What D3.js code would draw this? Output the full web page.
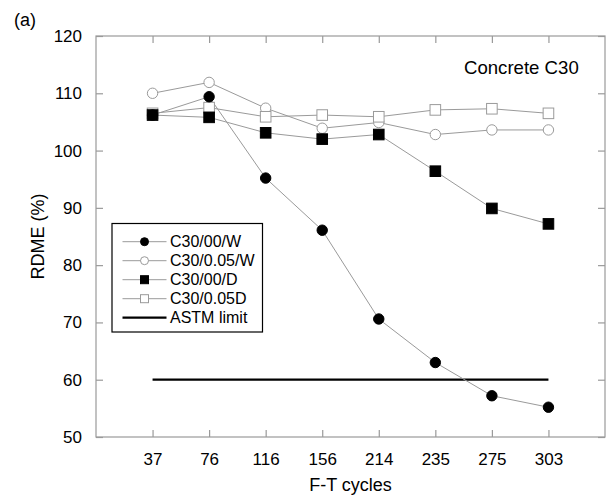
<!DOCTYPE html>
<html><head><meta charset="utf-8">
<script src="https://cdn.jsdelivr.net/npm/d3@7"></script>
<style>body{margin:0;background:#fff}svg{display:block}text{font-family:"Liberation Sans",Arial,sans-serif;fill:#000}</style>
</head><body><svg id="c" width="611" height="503"></svg>
<script>
const cycles = ["37","76","116","156","214","235","275","303"];
const c30_00_W   = [106.2,109.4,95.2,86.1,70.6,63.0,57.2,55.2];
const c30_005_W  = [110.0,111.9,107.4,103.9,104.9,102.8,103.6,103.6];
const c30_00_D   = [106.2,105.8,103.1,102.0,102.8,96.4,89.9,87.2];
const c30_005_D  = [106.5,107.5,105.9,106.2,105.9,107.1,107.3,106.5];
const astmLimit  = 60;
const yTicks = [50,60,70,80,90,100,110,120];
const seriesNames = ["C30/00/W","C30/0.05/W","C30/00/D","C30/0.05D"];

const svg = d3.select("#c");
const L=96, R=605, T=36, B=437;
const x = d3.scalePoint().domain(cycles).range([L,R]).padding(1);
const y = d3.scaleLinear().domain([50,120]).range([B,T]);
const gray="#9a9a9a";

svg.append("rect").attr("x",L).attr("y",T).attr("width",R-L).attr("height",B-T)
  .attr("fill","none").attr("stroke",gray).attr("stroke-width",1.2);

const ax = [
  {g:d3.axisBottom(x).tickSize(-7).tickPadding(16), t:`translate(0,${B})`},
  {g:d3.axisTop(x).tickSize(-7).tickFormat(""), t:`translate(0,${T})`},
  {g:d3.axisLeft(y).tickValues(yTicks).tickSize(-7).tickPadding(14), t:`translate(${L},0)`},
  {g:d3.axisRight(y).tickValues(yTicks).tickSize(-7).tickFormat(""), t:`translate(${R},0)`}
];
ax.forEach(a=>{
  const g=svg.append("g").attr("transform",a.t).call(a.g);
  g.select(".domain").remove();
  g.selectAll(".tick line").attr("stroke",gray).attr("stroke-width",1.2);
  g.selectAll(".tick text").attr("font-size",17).attr("fill","#000")
   .style("font-family","'Liberation Sans',Arial,sans-serif");
});

svg.append("line").attr("x1",x(cycles[0])).attr("x2",x(cycles[cycles.length-1]))
  .attr("y1",y(astmLimit)).attr("y2",y(astmLimit)).attr("stroke","#000").attr("stroke-width",2.2);

const data = [
  {name:seriesNames[0], vals:c30_00_W, shape:"circle", fill:"#000"},
  {name:seriesNames[1], vals:c30_005_W, shape:"circle", fill:"#fff"},
  {name:seriesNames[2], vals:c30_00_D, shape:"square", fill:"#000"},
  {name:seriesNames[3], vals:c30_005_D, shape:"square", fill:"#fff"}
];
const line = d3.line().x((d,i)=>x(cycles[i])).y(d=>y(d));
function marker(sel, s, cx, cy, size){
  if(s.shape==="circle"){
    sel.append("circle").attr("cx",cx).attr("cy",cy).attr("r",size)
      .attr("fill",s.fill).attr("stroke",s.fill==="#000"?"#000":gray).attr("stroke-width",1);
  } else {
    sel.append("rect").attr("x",cx-size).attr("y",cy-size).attr("width",2*size).attr("height",2*size)
      .attr("fill",s.fill).attr("stroke",s.fill==="#000"?"#000":gray).attr("stroke-width",1);
  }
}
const order=[1,3,0,2];
order.forEach(k=>{
  const s=data[k];
  svg.append("path").datum(s.vals).attr("d",line).attr("fill","none").attr("stroke",gray).attr("stroke-width",1);
});
order.forEach(k=>{
  const s=data[k];
  const g=svg.append("g");
  s.vals.forEach((v,i)=>marker(g,s,x(cycles[i]),y(v),s.shape==="circle"?5.2:5.3));
});

const lg=svg.append("g");
lg.append("rect").attr("x",112).attr("y",223.5).attr("width",150.5).attr("height",108.5)
  .attr("fill","#fff").attr("stroke","#000").attr("stroke-width",1.2);
data.forEach((s,i)=>{
  const yy=241.7+i*19;
  lg.append("line").attr("x1",122.5).attr("x2",166.5).attr("y1",yy).attr("y2",yy).attr("stroke",gray).attr("stroke-width",1);
  marker(lg,s,144.5,yy,4);
  lg.append("text").attr("x",170).attr("y",yy).attr("dy","0.36em").attr("font-size",16).text(s.name);
});
{
  const yy=241.7+4*19;
  lg.append("line").attr("x1",122.5).attr("x2",166.5).attr("y1",yy).attr("y2",yy).attr("stroke","#000").attr("stroke-width",2.2);
  lg.append("text").attr("x",170).attr("y",yy).attr("dy","0.36em").attr("font-size",16).text("ASTM limit");
}

svg.append("text").attr("x",464).attr("y",73.5).attr("font-size",18.6).text("Concrete C30");
svg.append("text").attr("x",(L+R)/2).attr("y",490.5).attr("text-anchor","middle").attr("font-size",18).text("F-T cycles");
svg.append("text").attr("transform",`translate(44,${(T+B)/2}) rotate(-90)`).attr("text-anchor","middle").attr("font-size",18).text("RDME (%)");
svg.append("text").attr("x",14).attr("y",26).attr("font-size",18).text("(a)");
</script></body></html>
